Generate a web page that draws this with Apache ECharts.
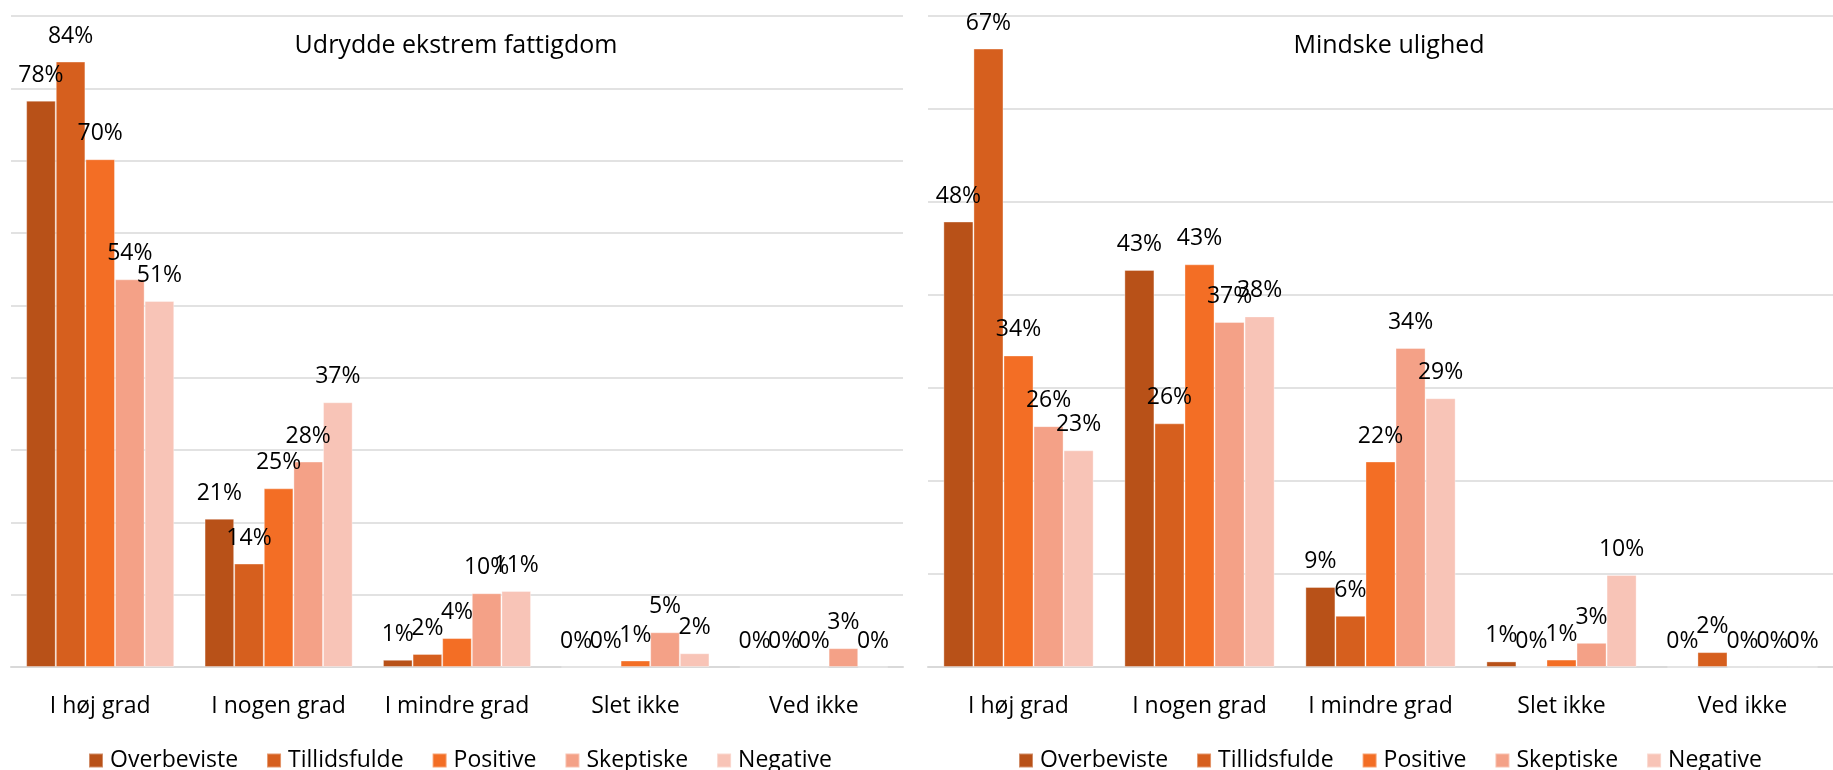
<!DOCTYPE html>
<html>
<head>
<meta charset="utf-8">
<script src="https://cdn.jsdelivr.net/npm/echarts@6/dist/echarts.min.js"></script>
<style>
html,body{margin:0;padding:0;background:#fff;}
#c{width:1833px;height:770px;}
</style>
</head>
<body>
<div id="c"></div>
<script>
const categories = ['I høj grad', 'I nogen grad', 'I mindre grad', 'Slet ikke', 'Ved ikke'];
const seriesNames = ['Overbeviste', 'Tillidsfulde', 'Positive', 'Skeptiske', 'Negative'];
const seriesColors = ['#B85118', '#D65F1E', '#F36E25', '#F4A187', '#F8C4B7'];

const title1 = 'Udrydde ekstrem fattigdom';
const title2 = 'Mindske ulighed';

// Udrydde ekstrem fattigdom (percent)
const fattigOverbeviste  = [78.3, 20.5, 1.0, 0,   0];
const fattigTillidsfulde = [83.7, 14.3, 1.8, 0,   0];
const fattigPositive     = [70.2, 24.7, 4.0, 0.9, 0];
const fattigSkeptiske    = [53.6, 28.4, 10.2, 4.8, 2.6];
const fattigNegative     = [50.6, 36.6, 10.5, 1.9, 0];

// Mindske ulighed (percent)
const ulighOverbeviste  = [47.9, 42.7, 8.6, 0.6, 0];
const ulighTillidsfulde = [66.5, 26.2, 5.5, 0,   1.6];
const ulighPositive     = [33.5, 43.3, 22.1, 0.8, 0];
const ulighSkeptiske    = [25.9, 37.1, 34.3, 2.6, 0];
const ulighNegative     = [23.3, 37.7, 28.9, 9.9, 0];

const fattigData = [fattigOverbeviste, fattigTillidsfulde, fattigPositive, fattigSkeptiske, fattigNegative];
const ulighData  = [ulighOverbeviste, ulighTillidsfulde, ulighPositive, ulighSkeptiske, ulighNegative];

const FONT = '"Open Sans", "Noto Sans", sans-serif';
const chart = echarts.init(document.getElementById('c'), null, {renderer: 'canvas'});

function makeSeries(dataSets, idx) {
  return dataSets.map((d, i) => ({
    name: seriesNames[i],
    type: 'bar',
    xAxisIndex: idx,
    yAxisIndex: idx,
    data: d,
    barGap: '0%',
    barCategoryGap: '17%',
    itemStyle: {color: seriesColors[i], borderColor: 'rgba(255,255,255,0.35)', borderWidth: 1},
    label: {
      show: true,
      position: 'top',
      distance: 14,
      color: '#000',
      fontFamily: FONT,
      fontSize: 23,
      formatter: p => Math.round(p.value) + '%'
    },
    emphasis: {disabled: true},
    animation: false
  }));
}

const xAxisCommon = {
  type: 'category',
  data: categories,
  axisLine: {show: true, lineStyle: {color: '#D9D9D9', width: 2}},
  axisTick: {show: false},
  axisLabel: {interval: 0, color: '#000', fontFamily: FONT, fontSize: 23, margin: 28}
};
const yAxisCommon = {
  type: 'value',
  min: 0,
  interval: 10,
  axisLabel: {show: false},
  axisLine: {show: false},
  axisTick: {show: false},
  splitLine: {show: true, lineStyle: {color: '#D9D9D9', width: 1.5}}
};

const legendCommon = {
  itemWidth: 14,
  itemHeight: 14,
  itemGap: 28,
  icon: 'rect',
  textStyle: {color: '#000', fontFamily: FONT, fontSize: 23, padding: [0, 0, 0, 2]},
  selectedMode: false
};

chart.setOption({
  animation: false,
  backgroundColor: '#fff',
  grid: [
    {left: 11, top: 16, width: 892, height: 651},
    {left: 928, top: 16, width: 922, height: 651}
  ],
  xAxis: [
    Object.assign({gridIndex: 0}, xAxisCommon),
    Object.assign({gridIndex: 1}, xAxisCommon)
  ],
  yAxis: [
    Object.assign({gridIndex: 0, max: 90}, yAxisCommon),
    Object.assign({gridIndex: 1, max: 70}, yAxisCommon)
  ],
  legend: [
    Object.assign({left: 83, top: 744, data: seriesNames}, legendCommon),
    Object.assign({left: 1013, top: 744, data: seriesNames}, legendCommon)
  ],
  graphic: [
    {type: 'text', x: 456, y: 46, z: 10, style: {text: title1, fill: '#000', font: '25px ' + FONT, textAlign: 'center', textVerticalAlign: 'middle'}},
    {type: 'text', x: 1389, y: 46, z: 10, style: {text: title2, fill: '#000', font: '25px ' + FONT, textAlign: 'center', textVerticalAlign: 'middle'}}
  ],
  series: makeSeries(fattigData, 0).concat(makeSeries(ulighData, 1))
});
</script>
</body>
</html>
